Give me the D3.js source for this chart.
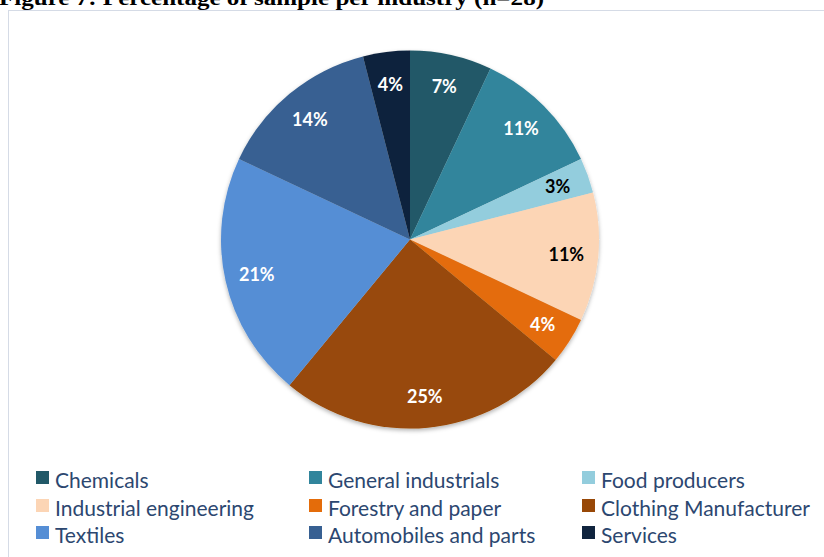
<!DOCTYPE html>
<html>
<head>
<meta charset="utf-8">
<script src="https://cdn.jsdelivr.net/npm/d3@7/dist/d3.min.js"></script>
<style>
  html, body { margin: 0; padding: 0; background: #ffffff; }
  svg { display: block; }
</style>
</head>
<body>
<svg id="chart" width="824" height="557"></svg>
<script>
// Industry breakdown of the sample (percent of firms, n=28)
const categories = [
  "Chemicals", "General industrials", "Food producers",
  "Industrial engineering", "Forestry and paper", "Clothing Manufacturer",
  "Textiles", "Automobiles and parts", "Services"
];
const shares = [7, 11, 3, 11, 4, 25, 21, 14, 4];
const sliceColors = [
  "#215968", "#31859c", "#93cddd",
  "#fcd5b5", "#e46c0a", "#984807",
  "#558ed5", "#376092", "#10243e"
];
const labelColors = [
  "#ffffff", "#ffffff", "#000000",
  "#000000", "#ffffff", "#ffffff",
  "#ffffff", "#ffffff", "#ffffff"
];
const titleText = "Figure 7: Percentage of sample per industry (n=28)";

const svg = d3.select("#chart");
const W = 824, H = 557;

// heading above the chart frame
svg.append("text")
  .attr("x", -1).attr("y", 5)
  .attr("font-family", "'Liberation Serif', 'DejaVu Serif', serif")
  .attr("font-weight", "bold")
  .attr("font-size", 22)
  .attr("textLength", 545)
  .attr("lengthAdjust", "spacingAndGlyphs")
  .attr("fill", "#000")
  .text(titleText);

// chart frame
svg.append("rect")
  .attr("x", 8.5).attr("y", 10.5)
  .attr("width", W).attr("height", H)
  .attr("fill", "#ffffff")
  .attr("stroke", "#d5dbe6")
  .attr("stroke-width", 1);

// soft shadow under the pie
const defs = svg.append("defs");
const f = defs.append("filter").attr("id", "pieShadow")
  .attr("x", "-10%").attr("y", "-10%").attr("width", "120%").attr("height", "125%");
f.append("feDropShadow")
  .attr("dx", 0).attr("dy", 2).attr("stdDeviation", 2)
  .attr("flood-color", "#000").attr("flood-opacity", 0.3);

const cx = 410, cy = 239.5, R = 189;
const pie = d3.pie().sort(null).value(d => d)(shares);
const arc = d3.arc().innerRadius(0).outerRadius(R);
const labelArc = d3.arc().innerRadius(157).outerRadius(157);

const g = svg.append("g").attr("transform", `translate(${cx},${cy})`);

g.append("g").attr("filter", "url(#pieShadow)")
  .selectAll("path")
  .data(pie)
  .join("path")
  .attr("d", arc)
  .attr("fill", (d, i) => sliceColors[i]);

g.selectAll("text.lbl")
  .data(pie)
  .join("text")
  .attr("class", "lbl")
  .attr("transform", d => `translate(${labelArc.centroid(d)})`)
  .attr("text-anchor", "middle")
  .attr("dominant-baseline", "central")
  .attr("font-family", "Lato, 'Open Sans', sans-serif")
  .attr("font-weight", "bold")
  .attr("font-size", 18)
  .attr("fill", (d, i) => labelColors[i])
  .text(d => d.data + "%");

// legend: three columns, three rows
const colX = [36, 309, 582];
const rowY = [478, 506, 533];
const legend = svg.append("g");
categories.forEach((name, i) => {
  const x = colX[i % 3], y = rowY[Math.floor(i / 3)];
  legend.append("rect")
    .attr("x", x).attr("y", y - 7)
    .attr("width", 13).attr("height", 13)
    .attr("fill", sliceColors[i]);
  legend.append("text")
    .attr("x", x + 19).attr("y", y + 1)
    .attr("dominant-baseline", "central")
    .attr("font-family", "Lato, 'Open Sans', sans-serif")
    .attr("font-size", 21)
    .attr("fill", "#2c4770")
    .text(name);
});
</script>
</body>
</html>
